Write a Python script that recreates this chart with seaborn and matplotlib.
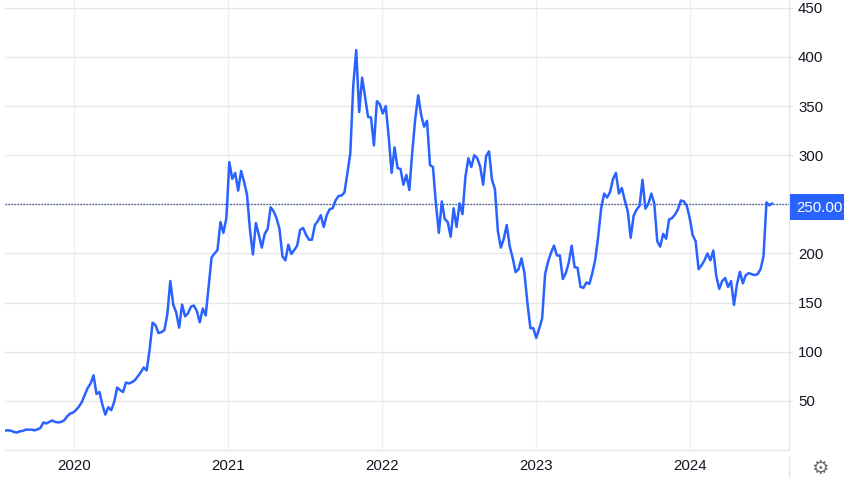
import matplotlib
matplotlib.use("Agg")
import matplotlib.pyplot as plt
import matplotlib.dates as mdates
from matplotlib.lines import Line2D
from matplotlib.patches import Rectangle
import pandas as pd
import seaborn as sns

START_DATE = "2019-07-22"
seg_2019_2020 = [19.7, 20, 19.7, 18.4, 17.7, 19, 19.4, 20.7, 20.7, 20.7, 20, 21, 22.4, 28, 27, 28.6, 30, 28.6, 28, 28.6,
                 30, 34, 37, 38, 40.5, 44, 48.6, 56, 63, 67.7, 76, 57, 59, 46, 36, 43.5, 40.5, 49, 63.6, 61,
                 59, 68.7, 67.7, 69, 71, 75, 79, 84, 81, 102, 129.6, 127, 119, 120, 122, 138, 172, 148, 140, 124.5,
                 148, 136, 139, 146, 147, 141.5, 130, 144, 137, 167]
seg_2020_2022 = [196, 200, 203.5, 232, 221, 236, 293, 276, 282, 264, 284, 273, 260, 224, 199, 231, 219, 206, 220, 225,
                 247, 243, 236, 225, 197, 193, 209, 199.5, 203.5, 208, 224, 226, 219, 214, 214, 229, 233, 239, 227, 239,
                 245, 246, 254, 258.5, 259, 262, 281.5, 302, 371, 407, 344, 379, 359.5, 339, 338.5, 310, 355, 352, 342.5, 350,
                 319, 282, 308, 287, 286, 270, 280, 264.6, 303.5, 337, 361, 341, 329, 335, 290, 288, 251, 221, 253, 235,
                 232, 217, 246, 227, 251, 240, 278, 297, 288, 300, 297]
seg_2022_2024 = [288.5, 270, 299, 304, 275, 265.5, 222.6, 206, 215, 229, 207.4, 195.6, 181, 184, 195, 180, 150, 124, 124, 114,
                 123.6, 134, 179, 191.6, 200.7, 208, 198, 198, 174, 180, 190.5, 208, 186, 185.5, 166, 165, 170.6, 169, 180, 194,
                 217.6, 246, 261, 257, 262.5, 275.7, 282, 261, 266.6, 254, 243, 216, 238.5, 244.6, 248.6, 275, 245.6, 250.7, 261, 250.7,
                 212.5, 207, 220, 215, 234.5, 236, 239.5, 245, 254, 253, 248.6, 236, 218.6, 212.5, 184, 188, 193, 200, 193, 203,
                 177, 164, 172, 175, 166, 172, 147.6, 168.6, 181.4, 169.6, 178, 180, 179, 178, 179, 184, 197, 252, 249, 251]
price = seg_2019_2020 + seg_2020_2022 + seg_2022_2024
last_price = 250
year_ticks = [2020, 2021, 2022, 2023, 2024]
y_ticks = [50, 100, 150, 200, 250, 300, 350, 400, 450]

W, H = 844, 478
BLUE = "#2962ff"
GRID_H = "#e6e6e6"
GRID_V = "#f0f0f0"
TEXT = "#131722"

sns.set_theme(style="white")
plt.rcParams["font.family"] = ["Liberation Sans", "DejaVu Sans"]

df = pd.DataFrame({"date": pd.date_range(START_DATE, periods=len(price), freq="7D"), "price": price})

fig = plt.figure(figsize=(W / 100, H / 100), dpi=100, facecolor="white")
ax = fig.add_axes([5 / W, (H - 450) / H, (789 - 5) / W, 450 / H])

ax.set_axisbelow(True)
ax.axhline(last_price, color="#14307f", lw=0.9, ls=(0, (1, 1.4)), zorder=2)
sns.lineplot(data=df, x="date", y="price", ax=ax, color=BLUE, lw=1.8, zorder=3, errorbar=None)

ax.set_xlim(mdates.date2num(pd.Timestamp("2019-07-22")), mdates.date2num(pd.Timestamp("2019-07-22")) + 784 / (154 / 365.25))
ax.set_ylim(0, 458)
ax.set_xlabel("")
ax.set_ylabel("")

ax.set_xticks([mdates.date2num(pd.Timestamp(f"{y}-01-01")) for y in year_ticks])
ax.set_xticklabels([str(y) for y in year_ticks])
ax.set_yticks(y_ticks)
ax.set_yticklabels(["" if v == last_price else str(v) for v in y_ticks])
ax.yaxis.tick_right()
ax.grid(True, axis="y", color=GRID_H, lw=1)
ax.grid(True, axis="x", color=GRID_V, lw=1)
ax.tick_params(axis="y", length=3, width=0.8, color=GRID_H, pad=3.5, labelsize=10.8, labelcolor=TEXT)
ax.tick_params(axis="x", length=0, pad=6.5, labelsize=10.8, labelcolor=TEXT)
for name, spine in ax.spines.items():
    spine.set_visible(name in ("bottom", "right"))
    spine.set_color(GRID_H)
    spine.set_linewidth(1)

fig.add_artist(Line2D([789 / W, 789 / W], [0, (H - 457) / H], color=GRID_H, lw=1))
fig.add_artist(Rectangle((790 / W, (H - 220) / H), 54 / W, 26 / H, transform=fig.transFigure, facecolor=BLUE, edgecolor="none"))
fig.text(819.5 / W, (H - 207.5) / H, f"{last_price:.2f}", color="white", fontsize=10.8, ha="center", va="center")
fig.text(820 / W, (H - 468.5) / H, "\u2699", color="#6e6e6e", fontsize=14, ha="center", va="center", family="DejaVu Sans")

fig.savefig("out.png", dpi=100)
